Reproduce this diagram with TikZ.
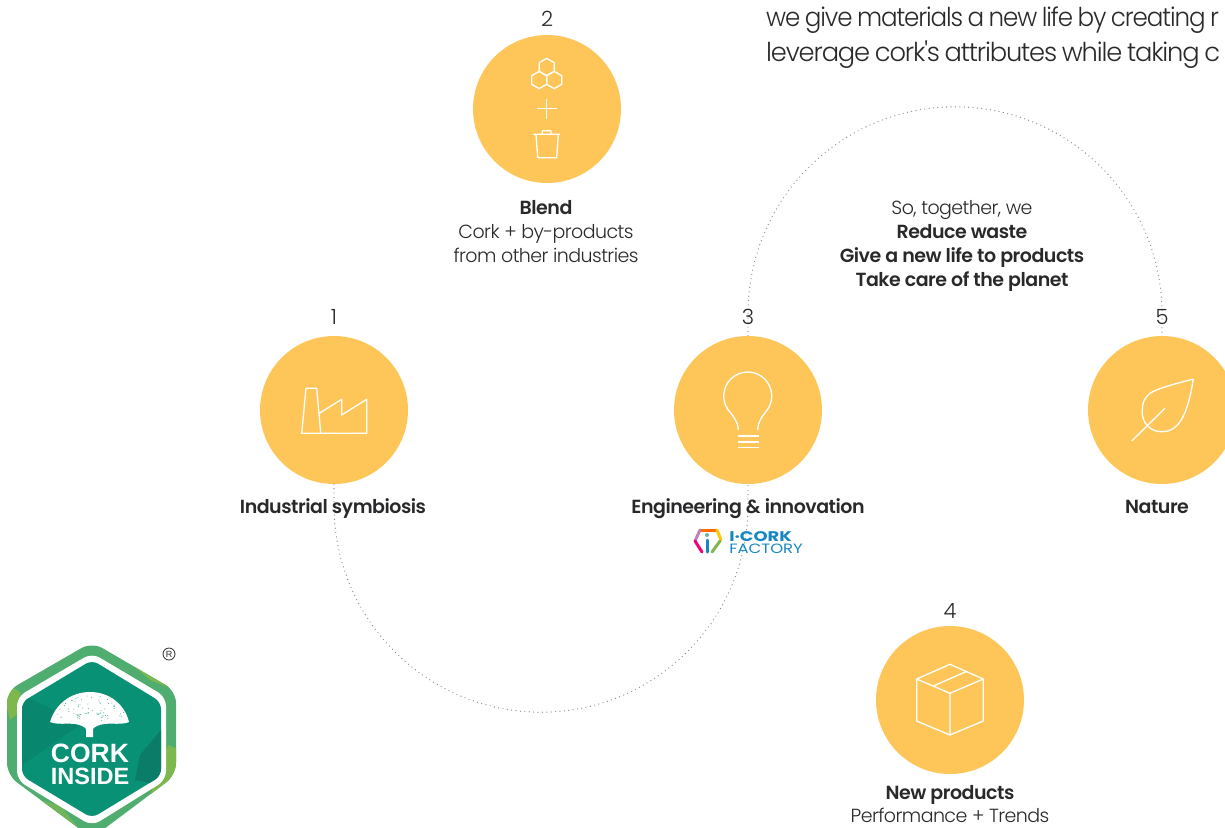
\documentclass[tikz,border=0pt]{standalone}
\usepackage{fontspec}
\setmainfont{Poppins}
\newfontfamily\lightfont[LetterSpace=-3]{Poppins Light}
\newfontfamily\headfont[LetterSpace=-4.5,WordSpace=0.8]{Poppins Light}
\newfontfamily\strongfont[LetterSpace=-2.5]{Poppins SemiBold}
\newfontfamily\logofont{Liberation Sans}
\newfontfamily\factoryfont{Poppins}
\usetikzlibrary{positioning,calc}
\pgfdeclarelayer{background}
\pgfdeclarelayer{foreground}
\pgfsetlayers{background,main,foreground}
\definecolor{corkink}{rgb}{0.16, 0.16, 0.17}
\definecolor{corkyellow}{rgb}{0.996, 0.776, 0.349}
\definecolor{corkdots}{rgb}{0.55, 0.55, 0.55}
\definecolor{corkgreen}{rgb}{0.31, 0.68, 0.44}
\definecolor{corklime}{rgb}{0.49, 0.72, 0.31}
\definecolor{corkteal}{rgb}{0.03, 0.57, 0.46}
\definecolor{corkdark}{rgb}{0.05, 0.45, 0.38}
\definecolor{factoryblue}{rgb}{0.09, 0.53, 0.77}
\tikzstyle{stepnode} = [circle, fill = corkyellow, minimum size = 148pt, inner sep = 0pt]
\tikzstyle{stepicon} = [white, line width = 1.3pt, line join = round]
\tikzstyle{stepnum} = [anchor = base, text = corkink, font = \lightfont\fontsize{21}{22}\selectfont, inner sep = 0pt]
\tikzstyle{steptitle} = [anchor = base, text = corkink, font = \strongfont\fontsize{19}{24}\selectfont, inner sep = 0pt]
\tikzstyle{steptext} = [anchor = base, text = corkink, font = \lightfont\fontsize{19}{24}\selectfont, inner sep = 0pt]
\tikzstyle{headtext} = [anchor = base west, text = corkink, font = \headfont\fontsize{26}{34}\selectfont, inner sep = 0pt]
\tikzstyle{orbit} = [corkdots, line width = 1.3pt, line cap = round, dash pattern = on 0pt off 4.4pt]
\tikzstyle{hexseg} = [line width = 3pt, line cap = round]
\begin{document}
\begin{tikzpicture}[x = 1pt, y = -1pt]
\useasboundingbox (0,0) rectangle (1225,827);
% steps
\node[stepnode] (n1) at (334,410) {};
\node[stepnode] (n2) at (547,109) {};
\node[stepnode] (n3) at (748,410) {};
\node[stepnode] (n4) at (950,700) {};
\node[stepnode] (n5) at (1162,410) {};
\node[stepnum] (num1) at (334,324) {1};
\node[stepnum] (num2) at (547,27) {2};
\node[stepnum] (num3) at (748,324) {3};
\node[stepnum] (num4) at (950,618) {4};
\node[stepnum] (num5) at (1162,324) {5};
% labels
\node[steptitle] (blend) at (546,214) {Blend};
\node[steptext] (blend1) at (546,238) {Cork + by-products};
\node[steptext] (blend2) at (546,262) {from other industries};
\node[steptitle] (symb) at (333,513) {Industrial symbiosis};
\node[steptitle] (engi) at (748,513) {Engineering \& innovation};
\node[steptitle] (natu) at (1157,513) {Nature};
\node[steptitle] (prod) at (950,799) {New products};
\node[steptext] (prod1) at (950,822) {Performance + Trends};
\node[steptext] (tog0) at (962,214) {So, together, we};
\node[steptitle] (tog1) at (962,238) {Reduce waste};
\node[steptitle] (tog2) at (962,262) {Give a new life to products};
\node[steptitle] (tog3) at (962,286) {Take care of the planet};
\node[headtext, xscale = 0.945] (head1) at (766,27) {we give materials a new life by creating r};
\node[headtext, xscale = 0.99] (head2) at (766,61) {leverage cork's attributes while taking c};
% icons
\draw[stepicon] (320.7,433.3) -- (316.7,388.3) -- (306,388.3) -- (301.7,433.3) -- (366.7,433.3) -- (366.7,399.3) -- (341.7,415) -- (341.7,399.3) -- (319.3,413.3);
\foreach \hx/\hy in {546.7/67, 539.2/80, 554.2/80} {
	\draw[stepicon] (\hx,\hy-8.66) -- (\hx+7.5,\hy-4.33) -- (\hx+7.5,\hy+4.33) -- (\hx,\hy+8.66) -- (\hx-7.5,\hy+4.33) -- (\hx-7.5,\hy-4.33) -- cycle;
}
\draw[stepicon] (536.7,108.7) -- (556.7,108.7) (546.7,98.7) -- (546.7,119);
\draw[stepicon] (533.3,134.3) -- (560,134.3) (542.3,134.3) -- (542.3,130.7) -- (551,130.7) -- (551,134.3) (536,134.3) -- (537.7,157.7) -- (556.7,157.7) -- (558.3,134.3);
\draw[stepicon] (738.3,430) .. controls (738,421) and (733,416) .. (727.6,409.1) arc (213:-33:24pt) .. controls (762.5,416) and (758,421) .. (757.7,430);
\foreach \ly in {436,442,447.7} {
	\draw[stepicon] (737.7,\ly) -- (758.7,\ly);
}
\draw[stepicon] (950,664.3) -- (983.3,679) -- (950,693.3) -- (916.7,679) -- cycle (916.7,679) -- (916.7,721) -- (950,735) -- (983.3,721) -- (983.3,679) (950,693.3) -- (950,735) (934,685.7) -- (966,671.7);
\draw[stepicon] (1193.3,379) .. controls (1175,384) and (1158,388) .. (1150,393.3) .. controls (1145,397) and (1142,403) .. (1142.3,410) .. controls (1141,424) and (1152,432) .. (1161.7,431.7) .. controls (1180,432) and (1188,412) .. (1193.3,379) (1131.7,441) -- (1165,408.3);
% i-cork factory
\draw[hexseg, orange!85!red] (700,530) -- (717,530);
\draw[hexseg, yellow!60!orange] (717,530) -- (721,540);
\draw[hexseg, violet!50!white] (695,541) -- (700,530);
\draw[hexseg, magenta!85!red] (695,541) -- (702,552);
\draw[hexseg, corklime] (720,541) -- (712,552);
\draw[hexseg, factoryblue] (707,540) -- (707,552);
\fill[teal!60!white] (707,535) circle (2pt);
\node[anchor = base west, text = factoryblue, font = \factoryfont\bfseries\fontsize{14}{14}\selectfont, inner sep = 0pt, xscale = 1.28] (icork) at (729,541) {I·CORK};
\node[anchor = base west, text = factoryblue, font = \factoryfont\fontsize{13.5}{14}\selectfont, inner sep = 0pt, xscale = 1.22] (fact) at (729,553) {FACTORY};
% cork inside
\begin{scope}
\clip[rounded corners = 12pt] (92,642) -- (176,691) -- (176,775) -- (92,838) -- (7,775) -- (7,691) -- cycle;
\fill[corkgreen] (0,630) rectangle (190,840);
\fill[corklime] (118,652) -- (155,672) -- (176,690) -- (150,680) -- cycle;
\fill[corklime] (0,680) -- (20,692) -- (22,710) -- (10,720) -- cycle;
\fill[corklime] (168,745) -- (180,750) -- (180,790) -- (150,796) -- cycle;
\fill[corklime!70!corkgreen] (20,795) -- (60,805) -- (80,830) -- (50,835) -- cycle;
\end{scope}
\fill[white, rounded corners = 9pt] (92,653) -- (166,697) -- (166,780) -- (92,826) -- (17,780) -- (17,697) -- cycle;
\begin{scope}
\clip[rounded corners = 7pt] (92,660) -- (161,702) -- (161,776) -- (92,818) -- (22,776) -- (22,702) -- cycle;
\fill[corkteal] (0,650) rectangle (180,827);
\fill[corkdark!35!corkteal] (22,695) -- (58,712) -- (80,725) -- (22,765) -- cycle;
\fill[corkdark!70!corkteal] (161,730) -- (161,785) -- (135,780) -- (140,755) -- cycle;
\end{scope}
% tree
\fill[white] (50,722) .. controls (55,705) and (70,692) .. (90,692) .. controls (110,692) and (125,705) .. (129,722) .. controls (122,725) and (112,723) .. (104,724) .. controls (98,725) and (94,727) .. (93,729) -- (93,737) -- (86,737) -- (86,729) .. controls (85,727) and (81,725) .. (75,724) .. controls (66,723) and (58,725) .. (50,722) -- cycle;
\pgfmathsetseed{17}
\foreach \i in {1,...,70} {
	\pgfmathsetmacro{\ang}{10+160*rnd}
	\pgfmathsetmacro{\rad}{0.3+0.65*rnd}
	\fill[corkteal!80!white] ({90+38*\rad*cos(\ang)},{722-28*\rad*sin(\ang)}) circle (0.5pt);
}
\node[text = white, font = \logofont\bfseries\fontsize{26.5}{26}\selectfont, inner sep = 0pt] (cork) at (90,753) {CORK};
\node[text = white, font = \logofont\bfseries\fontsize{23.5}{24}\selectfont, inner sep = 0pt] (inside) at (90,776) {INSIDE};
\node[circle, draw = corkink, line width = 0.8pt, minimum size = 12pt, inner sep = 0pt, text = corkink, font = \logofont\fontsize{9}{9}\selectfont] (regd) at (169,654) {R};
% orbits
\begin{pgfonlayer}{background}
\draw[orbit] (n3.north) -- ++(0,-22) arc (180:0:207pt) -- (n5.north);
\draw[orbit] (n1.south) -- ++(0,21) arc (180:360:207pt) -- (n3.south);
\end{pgfonlayer}
\end{tikzpicture}
\end{document}
